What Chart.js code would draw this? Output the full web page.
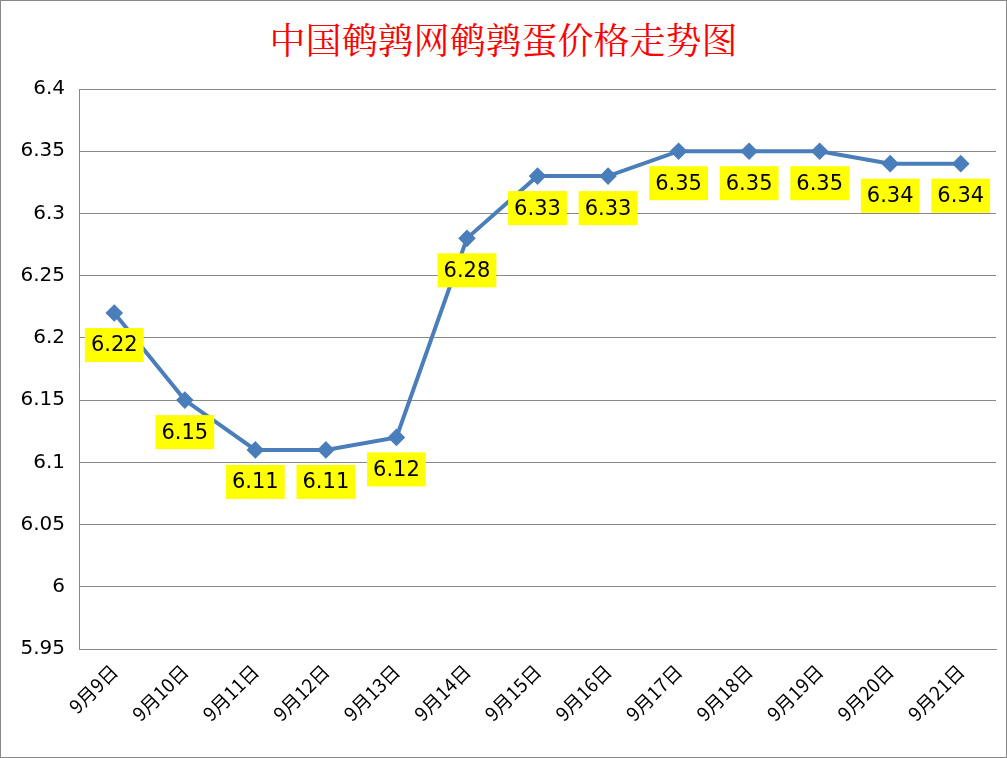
<!DOCTYPE html>
<html><head><meta charset="utf-8">
<script src="https://cdn.jsdelivr.net/npm/chart.js@4"></script>
<style>
body{margin:0;background:#fff}
#wrap{position:relative;width:1005px;height:756px;border:1px solid #888}
h1{position:absolute;left:0;right:0;top:12px;margin:0;text-align:center;color:#f00;font:36px "Noto Serif CJK SC","Noto Sans CJK SC",serif;font-weight:normal}
canvas{position:absolute;left:0;top:0}
</style></head><body>
<div id="wrap"><h1>中国鹌鹑网鹌鹑蛋价格走势图</h1><canvas id="c" width="1005" height="756"></canvas></div>
<script>
const dates = ['9月9日','9月10日','9月11日','9月12日','9月13日','9月14日','9月15日','9月16日','9月17日','9月18日','9月19日','9月20日','9月21日'];
const prices = [6.22,6.15,6.11,6.11,6.12,6.28,6.33,6.33,6.35,6.35,6.35,6.34,6.34];

const labelPlugin = {
  id: 'yellowLabels',
  afterDatasetsDraw(chart) {
    const ctx = chart.ctx;
    const meta = chart.getDatasetMeta(0);
    ctx.save();
    ctx.font = '21px "DejaVu Sans"';
    ctx.textAlign = 'center';
    ctx.textBaseline = 'middle';
    meta.data.forEach((pt, i) => {
      const txt = prices[i].toFixed(2);
      const w = ctx.measureText(txt).width + 12, h = 34;
      const y = pt.y + 32;
      ctx.fillStyle = '#ffff00';
      ctx.fillRect(pt.x - w / 2, y - h / 2, w, h);
      ctx.fillStyle = '#000';
      ctx.fillText(txt, pt.x, y + 1);
    });
    ctx.restore();
  }
};

new Chart(document.getElementById('c'), {
  type: 'line',
  data: {
    labels: dates,
    datasets: [{
      data: prices,
      borderColor: '#4a7ebb',
      backgroundColor: '#4a7ebb',
      borderWidth: 4,
      pointStyle: 'rectRot',
      pointRadius: 6,
      tension: 0
    }]
  },
  options: {
    responsive: false,
    animation: false,
    layout: { padding: { top: 88, right: 0, left: 0, bottom: 0 } },
    plugins: { legend: { display: false }, tooltip: { enabled: false } },
    scales: {
      y: {
        min: 5.95, max: 6.4,
        ticks: { stepSize: 0.05, padding: 14, color: '#000', font: { size: 20, family: 'DejaVu Sans' },
          callback: v => String(Math.round(v * 100) / 100) },
        grid: { color: '#888', drawTicks: false },
        border: { color: '#888' },
        afterFit(s) { s.width = 78; }
      },
      x: {
        offset: true,
        ticks: { color: '#000', maxRotation: 45, minRotation: 45, font: { size: 19, family: 'Noto Sans CJK SC' } },
        grid: { display: false },
        border: { color: '#888' },
        afterFit(s) { s.height = 108; }
      }
    }
  },
  plugins: [labelPlugin]
});
</script>
</body></html>
